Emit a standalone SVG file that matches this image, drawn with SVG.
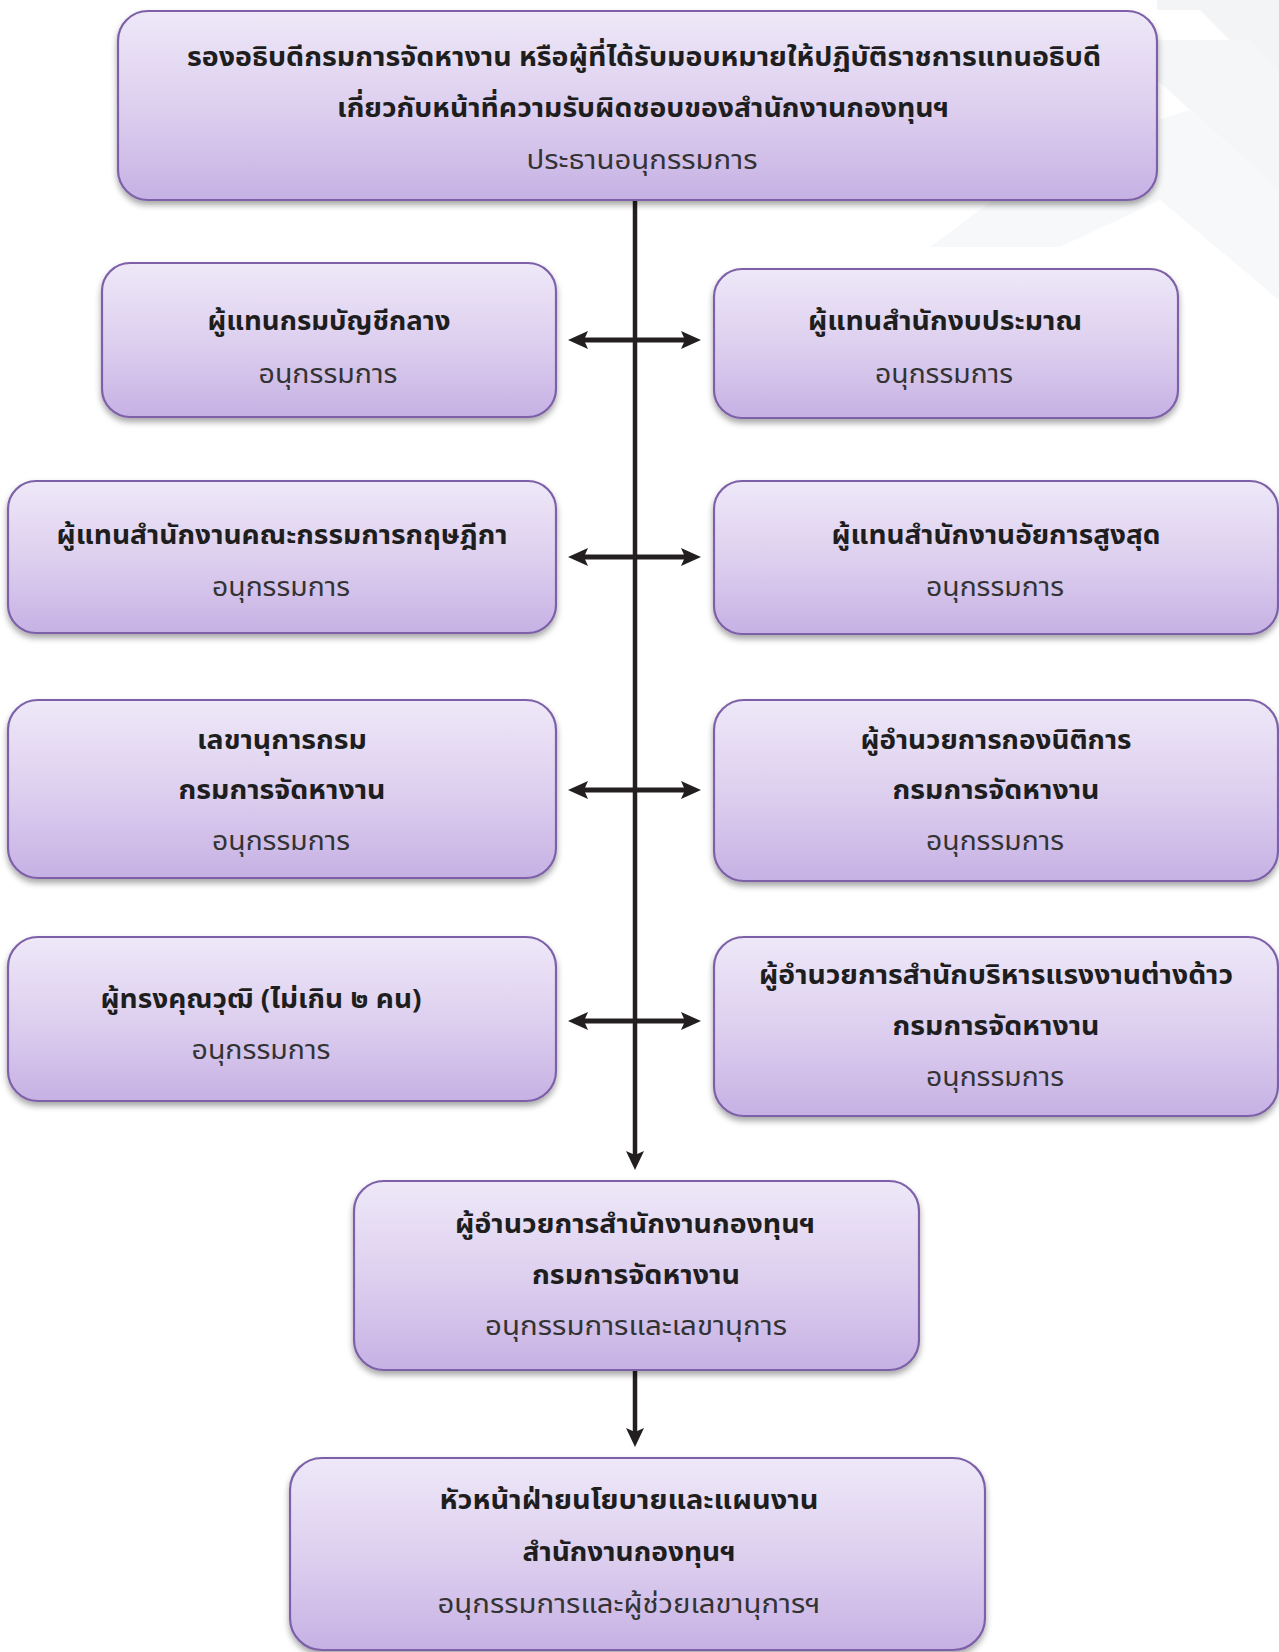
<svg xmlns="http://www.w3.org/2000/svg" width="1279" height="1652" viewBox="0 0 1279 1652">
<defs>
<linearGradient id="g" x1="0" y1="0" x2="0" y2="1">
<stop offset="0" stop-color="#eee8f8"/>
<stop offset="0.55" stop-color="#dccdee"/>
<stop offset="1" stop-color="#c6b1e4"/>
</linearGradient>
<filter id="sh" x="-5%" y="-10%" width="110%" height="125%">
<feDropShadow dx="0" dy="4" stdDeviation="3" flood-color="#000" flood-opacity="0.35"/>
</filter>
</defs>
<style>
.box{fill:url(#g);stroke:#7d61a8;stroke-width:2.2;filter:url(#sh)}
.t{font-family:"Noto Sans Thai","Noto Sans",sans-serif;font-size:27px;font-weight:bold;fill:#1e1e1e;text-anchor:middle}
.r{font-family:"Noto Sans Thai","Noto Sans",sans-serif;font-size:27px;font-weight:normal;fill:#333;text-anchor:middle}
.ln{stroke:#231f20;stroke-width:4.5;fill:none}
.lh{stroke:#231f20;stroke-width:5;fill:none}
.ah{fill:#231f20}
</style>
<rect width="1279" height="1652" fill="#fff"/>
<g id="bg">
<polygon points="950,0 1279,0 1279,90 1200,10 1157,10 1157,0" fill="#f3f4f5"/>
<polygon points="1157,40 1250,40 1279,70 1279,190 1157,80" fill="#f5f6f7"/>
<polygon points="930,247 1060,150 1190,110 1279,190 1279,300 1160,200 1060,247" fill="#f7f8f9"/>
</g>
<g id="connectors">
<line class="ln" x1="635" y1="200" x2="635" y2="1156"/>
<polygon class="ah" points="626,1151 635,1155 644,1151 635,1170"/>
<line class="ln" x1="635" y1="1370" x2="635" y2="1433"/>
<polygon class="ah" points="626,1428 635,1432 644,1428 635,1447"/>
<g id="a1"><line class="lh" x1="582" y1="340" x2="688" y2="340"/><polygon class="ah" points="568,340 588,331 584,340 588,349"/><polygon class="ah" points="701,340 681,331 685,340 681,349"/></g>
<g id="a2"><line class="lh" x1="582" y1="557" x2="688" y2="557"/><polygon class="ah" points="568,557 588,548 584,557 588,566"/><polygon class="ah" points="701,557 681,548 685,557 681,566"/></g>
<g id="a3"><line class="lh" x1="582" y1="790" x2="688" y2="790"/><polygon class="ah" points="568,790 588,781 584,790 588,799"/><polygon class="ah" points="701,790 681,781 685,790 681,799"/></g>
<g id="a4"><line class="lh" x1="582" y1="1021" x2="688" y2="1021"/><polygon class="ah" points="568,1021 588,1012 584,1021 588,1030"/><polygon class="ah" points="701,1021 681,1012 685,1021 681,1030"/></g>
</g>
<g id="chair">
<rect class="box" x="118" y="11" width="1039" height="189" rx="30"/>
<text class="t" x="644" y="66" textLength="914" lengthAdjust="spacingAndGlyphs">รองอธิบดีกรมการจัดหางาน หรือผู้ที่ได้รับมอบหมายให้ปฏิบัติราชการแทนอธิบดี</text>
<text class="t" x="643" y="117" textLength="612" lengthAdjust="spacingAndGlyphs">เกี่ยวกับหน้าที่ความรับผิดชอบของสำนักงานกองทุนฯ</text>
<text class="r" x="642" y="169" textLength="231" lengthAdjust="spacingAndGlyphs">ประธานอนุกรรมการ</text>
</g>
<g id="n1">
<rect class="box" x="102" y="263" width="454" height="154" rx="28"/>
<text class="t" x="329" y="330" textLength="243" lengthAdjust="spacingAndGlyphs">ผู้แทนกรมบัญชีกลาง</text>
<text class="r" x="328" y="383" textLength="139" lengthAdjust="spacingAndGlyphs">อนุกรรมการ</text>
</g>
<g id="n2">
<rect class="box" x="714" y="269" width="464" height="149" rx="28"/>
<text class="t" x="945" y="330" textLength="274" lengthAdjust="spacingAndGlyphs">ผู้แทนสำนักงบประมาณ</text>
<text class="r" x="944" y="383" textLength="138" lengthAdjust="spacingAndGlyphs">อนุกรรมการ</text>
</g>
<g id="n3">
<rect class="box" x="8" y="481" width="548" height="152" rx="28"/>
<text class="t" x="282" y="544" textLength="451" lengthAdjust="spacingAndGlyphs">ผู้แทนสำนักงานคณะกรรมการกฤษฎีกา</text>
<text class="r" x="281" y="596" textLength="138" lengthAdjust="spacingAndGlyphs">อนุกรรมการ</text>
</g>
<g id="n4">
<rect class="box" x="714" y="481" width="564" height="153" rx="28"/>
<text class="t" x="996" y="544" textLength="329" lengthAdjust="spacingAndGlyphs">ผู้แทนสำนักงานอัยการสูงสุด</text>
<text class="r" x="995" y="596" textLength="138" lengthAdjust="spacingAndGlyphs">อนุกรรมการ</text>
</g>
<g id="n5">
<rect class="box" x="8" y="700" width="548" height="178" rx="30"/>
<text class="t" x="282" y="749" textLength="170" lengthAdjust="spacingAndGlyphs">เลขานุการกรม</text>
<text class="t" x="282" y="799" textLength="207" lengthAdjust="spacingAndGlyphs">กรมการจัดหางาน</text>
<text class="r" x="281" y="850" textLength="138" lengthAdjust="spacingAndGlyphs">อนุกรรมการ</text>
</g>
<g id="n6">
<rect class="box" x="714" y="700" width="564" height="181" rx="30"/>
<text class="t" x="996" y="749" textLength="271" lengthAdjust="spacingAndGlyphs">ผู้อำนวยการกองนิติการ</text>
<text class="t" x="996" y="799" textLength="207" lengthAdjust="spacingAndGlyphs">กรมการจัดหางาน</text>
<text class="r" x="995" y="850" textLength="138" lengthAdjust="spacingAndGlyphs">อนุกรรมการ</text>
</g>
<g id="n7">
<rect class="box" x="8" y="937" width="548" height="164" rx="30"/>
<text class="t" x="261" y="1008" textLength="321" lengthAdjust="spacingAndGlyphs">ผู้ทรงคุณวุฒิ (ไม่เกิน ๒ คน)</text>
<text class="r" x="261" y="1059" textLength="139" lengthAdjust="spacingAndGlyphs">อนุกรรมการ</text>
</g>
<g id="n8">
<rect class="box" x="714" y="937" width="564" height="179" rx="30"/>
<text class="t" x="996" y="984" textLength="474" lengthAdjust="spacingAndGlyphs">ผู้อำนวยการสำนักบริหารแรงงานต่างด้าว</text>
<text class="t" x="996" y="1035" textLength="207" lengthAdjust="spacingAndGlyphs">กรมการจัดหางาน</text>
<text class="r" x="995" y="1086" textLength="138" lengthAdjust="spacingAndGlyphs">อนุกรรมการ</text>
</g>
<g id="n9">
<rect class="box" x="354" y="1181" width="565" height="189" rx="30"/>
<text class="t" x="635" y="1233" textLength="360" lengthAdjust="spacingAndGlyphs">ผู้อำนวยการสำนักงานกองทุนฯ</text>
<text class="t" x="636" y="1284" textLength="208" lengthAdjust="spacingAndGlyphs">กรมการจัดหางาน</text>
<text class="r" x="636" y="1335" textLength="302" lengthAdjust="spacingAndGlyphs">อนุกรรมการและเลขานุการ</text>
</g>
<g id="n10">
<rect class="box" x="290" y="1458" width="695" height="192" rx="32"/>
<text class="t" x="629" y="1509" textLength="379" lengthAdjust="spacingAndGlyphs">หัวหน้าฝ่ายนโยบายและแผนงาน</text>
<text class="t" x="629" y="1561" textLength="213" lengthAdjust="spacingAndGlyphs">สำนักงานกองทุนฯ</text>
<text class="r" x="629" y="1613" textLength="383" lengthAdjust="spacingAndGlyphs">อนุกรรมการและผู้ช่วยเลขานุการฯ</text>
</g>
</svg>
